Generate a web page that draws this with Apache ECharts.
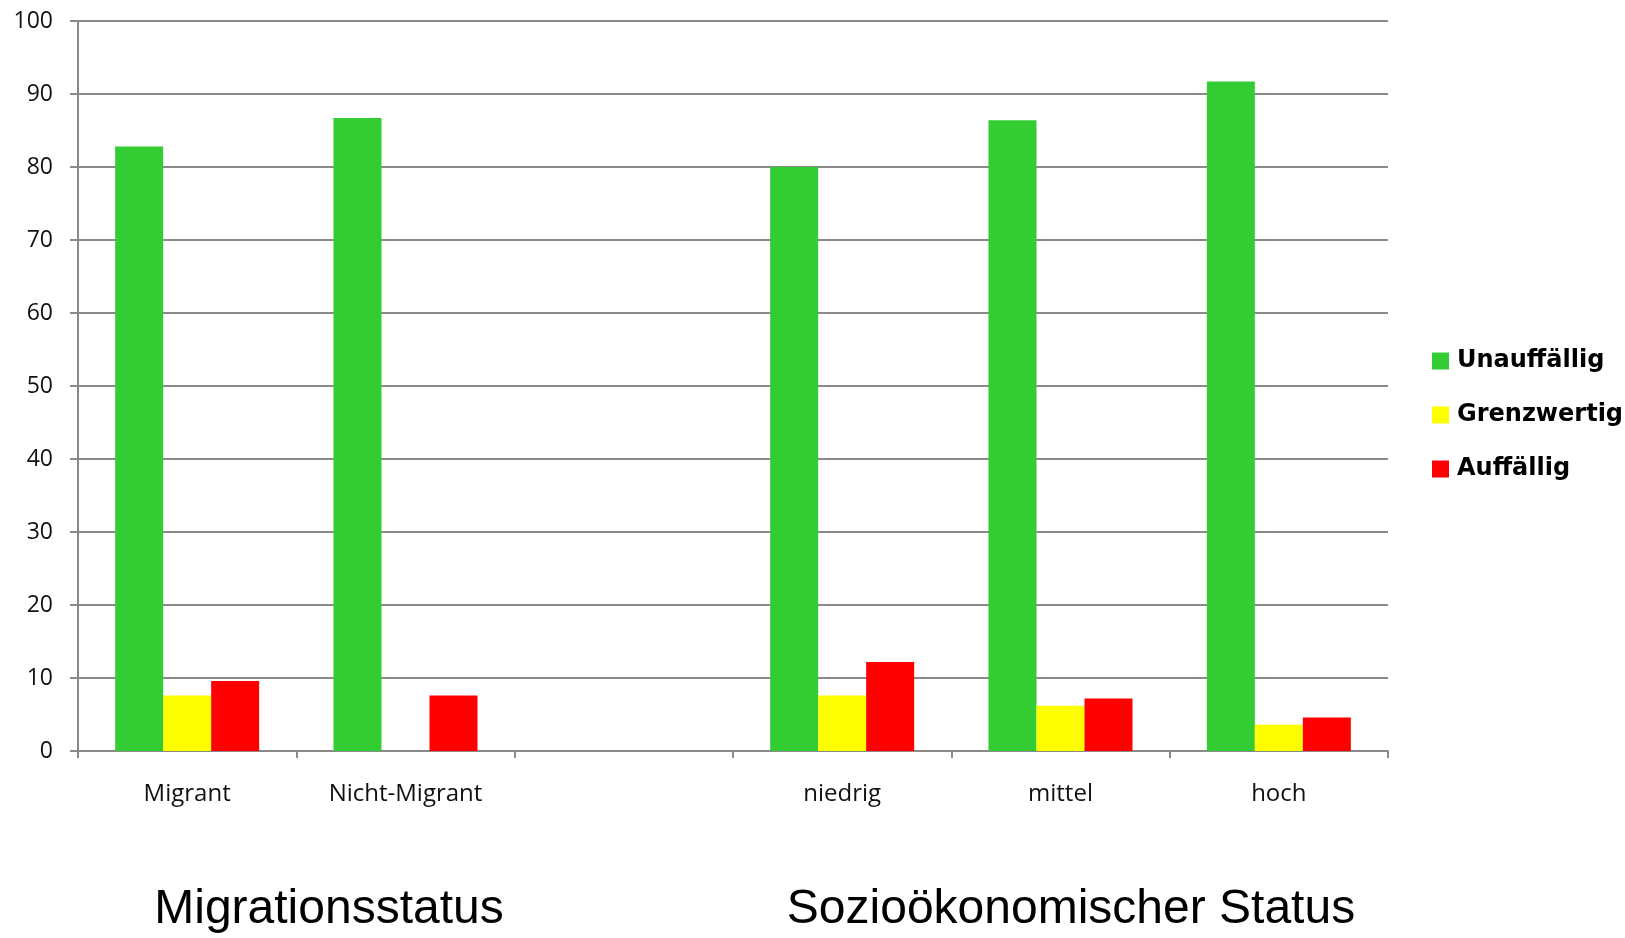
<!DOCTYPE html>
<html>
<head>
<meta charset="utf-8">
<script src="https://cdn.jsdelivr.net/npm/echarts@6/dist/echarts.min.js"></script>
<style>
  html, body { margin: 0; padding: 0; background: #fff; }
  #main { width: 1625px; height: 938px; }
</style>
</head>
<body>
<div id="main"></div>
<script>
// categories on the x axis (third slot is an empty spacer)
const categories = ['Migrant', 'Nicht-Migrant', '', 'niedrig', 'mittel', 'hoch'];
const groupTitles = ['Migrationsstatus', 'Sozioökonomischer Status'];
const seriesNames = ['Unauffällig', 'Grenzwertig', 'Auffällig'];

// percent values
const unauffaellig = [82.8, 86.7, null, 80.0, 86.4, 91.7];
const grenzwertig = [7.6, 0, null, 7.6, 6.2, 3.6];
const auffaellig = [9.6, 7.6, null, 12.2, 7.2, 4.6];

const colors = ['#33cc33', '#ffff00', '#ff0000'];
const gridColor = '#8a8a8a';

var myChart = echarts.init(document.getElementById('main'));

let option = {
  animation: false,
  color: colors,
  grid: {
    left: 78,
    right: 237,
    top: 21,
    bottom: 187,
    containLabel: false
  },
  legend: {
    orient: 'vertical',
    left: 1432,
    top: 349,
    padding: 0,
    itemWidth: 17,
    itemHeight: 17,
    itemGap: 30,
    icon: 'rect',
    textStyle: {
      fontFamily: 'DejaVu Sans',
      fontWeight: 'bold',
      fontSize: 24,
      color: '#000',
      padding: [0, 0, 0, 3]
    },
    data: seriesNames
  },
  xAxis: {
    type: 'category',
    data: categories,
    axisLine: { lineStyle: { color: gridColor, width: 2 } },
    axisTick: { show: true, length: 7, lineStyle: { color: gridColor, width: 2 } },
    axisLabel: {
      fontFamily: 'Open Sans',
      fontSize: 24,
      color: '#111',
      margin: 31
    }
  },
  yAxis: {
    type: 'value',
    min: 0,
    max: 100,
    interval: 10,
    axisLine: { show: true, lineStyle: { color: gridColor, width: 2 } },
    axisTick: { show: true, length: 8, lineStyle: { color: gridColor, width: 2 } },
    splitLine: { lineStyle: { color: gridColor, width: 2 } },
    axisLabel: {
      fontFamily: 'Open Sans',
      fontSize: 23,
      color: '#111',
      margin: 25
    }
  },
  graphic: [
    {
      type: 'text',
      x: 329,
      y: 910,
      style: {
        text: groupTitles[0],
        font: '48px "Liberation Sans", Arial, sans-serif',
        fill: '#000',
        textAlign: 'center',
        textVerticalAlign: 'middle'
      }
    },
    {
      type: 'text',
      x: 1071,
      y: 910,
      style: {
        text: groupTitles[1],
        font: '48px "Liberation Sans", Arial, sans-serif',
        fill: '#000',
        textAlign: 'center',
        textVerticalAlign: 'middle'
      }
    }
  ],
  series: [
    { name: seriesNames[0], type: 'bar', data: unauffaellig, barWidth: 48, barGap: '0%' },
    { name: seriesNames[1], type: 'bar', data: grenzwertig, barWidth: 48, barGap: '0%' },
    { name: seriesNames[2], type: 'bar', data: auffaellig, barWidth: 48, barGap: '0%' }
  ]
};

myChart.setOption(option);
</script>
</body>
</html>
